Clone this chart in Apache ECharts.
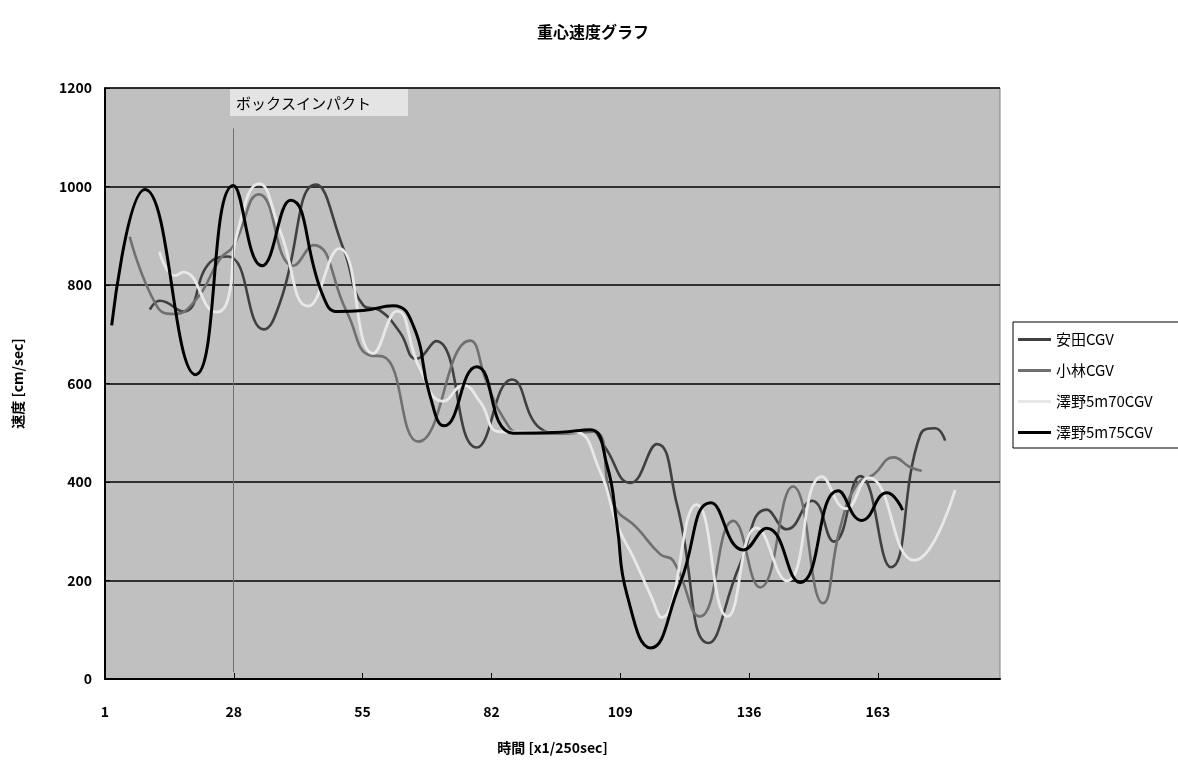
<!DOCTYPE html>
<html>
<head>
<meta charset="utf-8">
<script src="https://cdn.jsdelivr.net/npm/echarts@6/dist/echarts.min.js"></script>
<style>html,body{margin:0;padding:0;background:#fff;}#c{width:1178px;height:760px;}</style>
</head>
<body>
<div id="c"></div>
<script>
// ---- Data (time in 1/250 sec frames, speed in cm/sec) ----
const seriesNames = ['安田CGV', '小林CGV', '澤野5m70CGV', '澤野5m75CGV'];

const yasudaT = [10.4, 12.5, 17.4, 23.0, 26.8, 34.3, 37.7, 45.2, 51.0, 55.2, 58.7, 62.8, 66.3, 70.4, 78.9, 86.3, 92.2, 96.4, 102.7, 105.5, 111.1, 116.7, 120.9, 127.5, 134.1, 139.7, 143.9, 149.2, 153.8, 159.3, 165.7, 171.9, 175.0, 177.1];
const yasudaV = [750, 768, 746, 846, 858, 710, 765, 1004, 873, 758, 748, 704, 650, 686, 470, 608, 509, 499, 505, 475, 398, 477, 354, 73, 233, 344, 304, 362, 279, 412, 227, 496, 509, 484];

const kobayashiT = [6.2, 11.8, 15.3, 20.2, 25.1, 27.9, 33.3, 40.5, 44.7, 51.7, 56.6, 59.3, 66.7, 77.5, 81.0, 84.5, 88.0, 96.0, 103.4, 107.6, 112.5, 117.4, 120.1, 125.7, 132.7, 138.3, 145.2, 151.5, 155.1, 158.6, 162.1, 166.3, 169.8, 172.2];
const kobayashiV = [898, 758, 741, 772, 853, 879, 984, 839, 881, 745, 657, 655, 482, 687, 603, 530, 500, 498, 502, 354, 307, 253, 240, 127, 321, 186, 391, 154, 307, 395, 415, 450, 430, 423];

const sawano70T = [12.4, 15.7, 17.4, 24.4, 26.8, 28.6, 33.3, 37.7, 43.6, 50.1, 57.2, 62.2, 67.0, 71.9, 76.1, 79.6, 83.8, 92.2, 99.2, 104.8, 108.3, 111.8, 115.3, 117.7, 125.0, 131.5, 137.6, 143.9, 151.3, 156.3, 161.0, 170.6, 179.2];
const sawano70V = [868, 819, 826, 745, 772, 900, 1006, 910, 757, 874, 661, 747, 630, 564, 596, 563, 502, 501, 502, 421, 314, 246, 172, 125, 354, 127, 307, 199, 411, 346, 409, 241, 384];

const sawano75T = [2.4, 9.4, 20.0, 27.9, 33.9, 39.9, 46.7, 49.8, 55.1, 61.4, 65.6, 69.1, 72.1, 78.9, 86.6, 96.4, 102.7, 106.2, 108.3, 110.4, 115.4, 121.5, 128.0, 134.8, 139.7, 146.7, 154.7, 159.6, 164.9, 168.2];
const sawano75V = [718, 994, 618, 1002, 839, 972, 778, 746, 748, 758, 718, 576, 514, 634, 499, 501, 506, 435, 314, 172, 63, 193, 358, 262, 306, 196, 382, 322, 378, 343];

const xTickStart = 1, xTickStep = 27, xMax = 188.6;
const yMax = 1200, yStep = 200;
const impactT = 27.8, impactTop = 1118, impactBottom = 14;
const impactLabel = 'ボックスインパクト';

const colors = ['#404040', '#707070', '#e8e8e8', '#000000'];
const widths = [2.6, 2.6, 2.8, 3];

function pairs(t, v) { return t.map((x, i) => [x, v[i]]); }
const seriesData = [pairs(yasudaT, yasudaV), pairs(kobayashiT, kobayashiV), pairs(sawano70T, sawano70V), pairs(sawano75T, sawano75V)];

const FONT = '"Noto Sans CJK JP", "Noto Sans", sans-serif';

const chart = echarts.init(document.getElementById('c'), null, {renderer: 'canvas'});
const series = seriesNames.map((n, i) => ({
  name: n,
  type: 'line',
  data: seriesData[i],
  smooth: 0.5,
  symbol: 'none',
  lineStyle: {color: colors[i], width: widths[i]},
  itemStyle: {color: colors[i]},
  z: 2 + i
}));
series[3].markLine = {
  silent: true,
  symbol: 'none',
  label: {show: false},
  lineStyle: {color: '#707070', width: 1, type: 'solid'},
  data: [[{coord: [impactT, impactTop]}, {coord: [impactT, impactBottom]}]]
};

chart.setOption({
  animation: false,
  backgroundColor: '#ffffff',
  textStyle: {fontFamily: FONT},
  title: {
    text: '重心速度グラフ',
    left: 588, top: 19, textAlign: 'center',
    textStyle: {fontSize: 16, fontWeight: 'bold', color: '#000', fontFamily: FONT}
  },
  legend: {
    orient: 'vertical',
    left: 1013, top: 322,
    padding: [10, 30, 8, 5],
    itemGap: 16,
    itemWidth: 33, itemHeight: 3,
    icon: 'rect',
    backgroundColor: '#ffffff',
    borderColor: '#000000', borderWidth: 1,
    textStyle: {fontSize: 15, color: '#000', fontFamily: FONT},
    data: seriesNames
  },
  grid: {
    left: 105, right: 178, top: 88, bottom: 78,
    show: true, backgroundColor: '#c0c0c0', borderColor: '#808080', borderWidth: 1
  },
  xAxis: {
    type: 'value',
    min: xTickStart, max: xMax, interval: xTickStep,
    name: '時間 [x1/250sec]',
    nameLocation: 'middle', nameGap: 62,
    nameTextStyle: {fontSize: 14, fontWeight: 'bold', color: '#000', fontFamily: FONT},
    axisLine: {show: true, onZero: false, lineStyle: {color: '#000', width: 2}},
    axisTick: {show: true, inside: true, length: 6, lineStyle: {color: '#000', width: 1}},
    axisLabel: {show: true, showMaxLabel: false, margin: 26, fontSize: 14, fontWeight: 'bold', color: '#000', fontFamily: FONT},
    splitLine: {show: false}
  },
  yAxis: {
    type: 'value',
    min: 0, max: yMax, interval: yStep,
    name: '速度 [cm/sec]',
    nameLocation: 'middle', nameGap: 80, nameRotate: 90,
    nameTextStyle: {fontSize: 14, fontWeight: 'bold', color: '#000', fontFamily: FONT},
    axisLine: {show: true, lineStyle: {color: '#000', width: 2}},
    axisTick: {show: true, inside: true, length: 5, lineStyle: {color: '#000'}},
    axisLabel: {margin: 13, fontSize: 14, fontWeight: 'bold', color: '#000', fontFamily: FONT, formatter: v => String(v)},
    splitLine: {show: true, lineStyle: {color: '#000', width: 1.5}}
  },
  graphic: [{
    type: 'group', left: 230, top: 89, z: 100,
    children: [
      {type: 'rect', shape: {x: 0, y: 0, width: 178, height: 27}, style: {fill: '#e4e4e4'}},
      {type: 'text', x: 6, y: 14, style: {text: impactLabel, font: '15px ' + FONT, fill: '#000', textVerticalAlign: 'middle'}}
    ]
  }],
  series: series
});
</script>
</body>
</html>
